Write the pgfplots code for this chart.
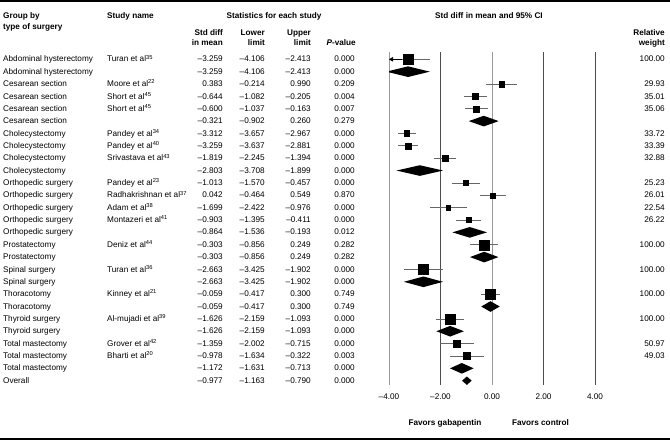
\documentclass[border=0pt]{standalone}
\usepackage{fontspec}
\setmainfont{Liberation Sans}
\usepackage{pgfplots}
\usepackage{pgfplotstable}
\pgfplotsset{compat=1.18}
\usetikzlibrary{arrows.meta}

% studies: row, std diff in mean, lower, upper, relative weight
\pgfplotstableread{
y  m      lo     hi     w
1  -3.259 -4.106 -2.413 100.00
3   0.383 -0.214  0.990  29.93
4  -0.644 -1.082 -0.205  35.01
5  -0.600 -1.037 -0.163  35.06
7  -3.312 -3.657 -2.967  33.72
8  -3.259 -3.637 -2.881  33.39
9  -1.819 -2.245 -1.394  32.88
11 -1.013 -1.570 -0.457  25.23
12  0.042 -0.464  0.549  26.01
13 -1.699 -2.422 -0.976  22.54
14 -0.903 -1.395 -0.411  26.22
16 -0.303 -0.856  0.249 100.00
18 -2.663 -3.425 -1.902 100.00
20 -0.059 -0.417  0.300 100.00
22 -1.626 -2.159 -1.093 100.00
24 -1.359 -2.002 -0.715  50.97
25 -0.978 -1.634 -0.322  49.03
}\studies

\newcommand\fs{\fontsize{8.2}{9.8}\selectfont}

\begin{document}
\begin{tikzpicture}
\useasboundingbox (0,0) rectangle (670pt,-440pt);
\draw[line width=2pt] (0,-1pt) -- (670pt,-1pt);
\draw[line width=1.5pt] (0,-439pt) -- (670pt,-439pt);

\begin{axis}[
    at={(389pt,-52pt)}, anchor=north west,
    scale only axis, width=206pt, height=333pt,
    xmin=-4, xmax=4, ymin=0.41, ymax=27.35, y dir=reverse,
    axis line style={draw=none},
    ytick=\empty, major tick length=0pt,
    xtick={-2,2,4}, xticklabels={–2.00,2.00,4.00},
    extra x ticks={-4,0}, extra x tick labels={–4.00,0.00},
    xmajorgrids,
    grid style={line width=0.8pt, color=black!70},
    extra x tick style={grid style={line width=0.8pt, color=black!40}},
    xticklabel style={font=\fs, anchor=mid, yshift=-11.7pt, inner sep=0pt},
]
% whiskers
\addplot[only marks, mark=none, forget plot,
    error bars/.cd, x dir=both, x explicit, error mark=none,
    error bar style={line width=0.7pt, color=black!60}]
    table[x=m, y=y, x error plus expr=\thisrow{hi}-\thisrow{m},
          x error minus expr=\thisrow{m}-\thisrow{lo}] {\studies};
\addplot[black, line width=0.7pt, -{Triangle[length=4pt, width=4.5pt]}]
    coordinates {(-3.5,1) (-4,1)};
% squares sized by weight
\addplot[scatter, only marks, mark=square*,
    scatter/use mapped color={draw=black, fill=black},
    visualization depends on={sqrt(\thisrow{w})/2 \as \ms},
    scatter/@pre marker code/.append style={/tikz/mark size=\ms, /tikz/line width=0pt}]
    table[x=m, y=y] {\studies};
% summary diamonds
\addplot[fill=black, draw=none] coordinates {(-4.106,2) (-3.259,1.57) (-2.413,2) (-3.259,2.43)} -- cycle;
\addplot[fill=black, draw=none] coordinates {(-0.902,6) (-0.321,5.57) (0.260,6) (-0.321,6.43)} -- cycle;
\addplot[fill=black, draw=none] coordinates {(-3.708,10) (-2.803,9.57) (-1.899,10) (-2.803,10.43)} -- cycle;
\addplot[fill=black, draw=none] coordinates {(-1.536,15) (-0.864,14.57) (-0.193,15) (-0.864,15.43)} -- cycle;
\addplot[fill=black, draw=none] coordinates {(-0.856,17) (-0.303,16.57) (0.249,17) (-0.303,17.43)} -- cycle;
\addplot[fill=black, draw=none] coordinates {(-3.425,19) (-2.663,18.57) (-1.902,19) (-2.663,19.43)} -- cycle;
\addplot[fill=black, draw=none] coordinates {(-0.417,21) (-0.059,20.57) (0.300,21) (-0.059,21.43)} -- cycle;
\addplot[fill=black, draw=none] coordinates {(-2.159,23) (-1.626,22.57) (-1.093,23) (-1.626,23.43)} -- cycle;
\addplot[fill=black, draw=none] coordinates {(-1.631,26) (-1.172,25.57) (-0.713,26) (-1.172,26.43)} -- cycle;
\addplot[fill=black, draw=none] coordinates {(-1.163,27) (-0.977,26.66) (-0.790,27) (-0.977,27.34)} -- cycle;
\end{axis}

\begin{scope}[every node/.style={inner sep=0pt, font=\fs}]
% headers
\node[anchor=mid west, font=\fs\bfseries] at (3pt,-15.7pt) {Group by};
\node[anchor=mid west, font=\fs\bfseries] at (3pt,-26.7pt) {type of surgery};
\node[anchor=mid west, font=\fs\bfseries] at (107pt,-15.7pt) {Study name};
\node[anchor=mid, font=\fs\bfseries] at (274pt,-15.7pt) {Statistics for each study};
\node[anchor=mid east, font=\fs\bfseries] at (223pt,-33.3pt) {Std diff};
\node[anchor=mid east, font=\fs\bfseries] at (223pt,-43.3pt) {in mean};
\node[anchor=mid east, font=\fs\bfseries] at (265pt,-33.3pt) {Lower};
\node[anchor=mid east, font=\fs\bfseries] at (265pt,-43.3pt) {limit};
\node[anchor=mid east, font=\fs\bfseries] at (311pt,-33.3pt) {Upper};
\node[anchor=mid east, font=\fs\bfseries] at (311pt,-43.3pt) {limit};
\node[anchor=mid east, font=\fs\bfseries] at (356pt,-43.3pt) {\textit{P}-value};
\node[anchor=mid, font=\fs\bfseries] at (489pt,-15.7pt) {Std diff in mean and 95\% CI};
\node[anchor=mid east, font=\fs\bfseries] at (665pt,-33.3pt) {Relative};
\node[anchor=mid east, font=\fs\bfseries] at (665pt,-43.3pt) {weight};
\node[anchor=mid, font=\fs\bfseries] at (445pt,-423.3pt) {Favors gabapentin};
\node[anchor=mid, font=\fs\bfseries] at (540.5pt,-423.3pt) {Favors control};
% rows
\foreach \i/\g/\s/\m/\l/\u/\p/\w in {
1/Abdominal hysterectomy/Turan et al\textsuperscript{35}/–3.259/–4.106/–2.413/0.000/100.00,
2/Abdominal hysterectomy/{}/–3.259/–4.106/–2.413/0.000/{},
3/Cesarean section/Moore et al\textsuperscript{22}/0.383/–0.214/0.990/0.209/29.93,
4/Cesarean section/Short et al\textsuperscript{45}/–0.644/–1.082/–0.205/0.004/35.01,
5/Cesarean section/Short et al\textsuperscript{45}/–0.600/–1.037/–0.163/0.007/35.06,
6/Cesarean section/{}/–0.321/–0.902/0.260/0.279/{},
7/Cholecystectomy/Pandey et al\textsuperscript{34}/–3.312/–3.657/–2.967/0.000/33.72,
8/Cholecystectomy/Pandey et al\textsuperscript{40}/–3.259/–3.637/–2.881/0.000/33.39,
9/Cholecystectomy/Srivastava et al\textsuperscript{43}/–1.819/–2.245/–1.394/0.000/32.88,
10/Cholecystectomy/{}/–2.803/–3.708/–1.899/0.000/{},
11/Orthopedic surgery/Pandey et al\textsuperscript{23}/–1.013/–1.570/–0.457/0.000/25.23,
12/Orthopedic surgery/Radhakrishnan et al\textsuperscript{37}/0.042/–0.464/0.549/0.870/26.01,
13/Orthopedic surgery/Adam et al\textsuperscript{38}/–1.699/–2.422/–0.976/0.000/22.54,
14/Orthopedic surgery/Montazeri et al\textsuperscript{41}/–0.903/–1.395/–0.411/0.000/26.22,
15/Orthopedic surgery/{}/–0.864/–1.536/–0.193/0.012/{},
16/Prostatectomy/Deniz et al\textsuperscript{44}/–0.303/–0.856/0.249/0.282/100.00,
17/Prostatectomy/{}/–0.303/–0.856/0.249/0.282/{},
18/Spinal surgery/Turan et al\textsuperscript{36}/–2.663/–3.425/–1.902/0.000/100.00,
19/Spinal surgery/{}/–2.663/–3.425/–1.902/0.000/{},
20/Thoracotomy/Kinney et al\textsuperscript{21}/–0.059/–0.417/0.300/0.749/100.00,
21/Thoracotomy/{}/–0.059/–0.417/0.300/0.749/{},
22/Thyroid surgery/Al-mujadi et al\textsuperscript{39}/–1.626/–2.159/–1.093/0.000/100.00,
23/Thyroid surgery/{}/–1.626/–2.159/–1.093/0.000/{},
24/Total mastectomy/Grover et al\textsuperscript{42}/–1.359/–2.002/–0.715/0.000/50.97,
25/Total mastectomy/Bharti et al\textsuperscript{20}/–0.978/–1.634/–0.322/0.003/49.03,
26/Total mastectomy/{}/–1.172/–1.631/–0.713/0.000/{},
27/Overall/{}/–0.977/–1.163/–0.790/0.000/{}}
{
  \pgfmathsetmacro\yy{-(59.3+(\i-1)*12.36)}
  \node[anchor=mid west] at (3pt,\yy pt) {\g};
  \node[anchor=mid west] at (107pt,\yy pt) {\s};
  \node[anchor=mid east] at (223pt,\yy pt) {\m};
  \node[anchor=mid east] at (265pt,\yy pt) {\l};
  \node[anchor=mid east] at (311pt,\yy pt) {\u};
  \node[anchor=mid east] at (355pt,\yy pt) {\p};
  \node[anchor=mid east] at (665pt,\yy pt) {\w};
}
\end{scope}
\end{tikzpicture}
\end{document}
